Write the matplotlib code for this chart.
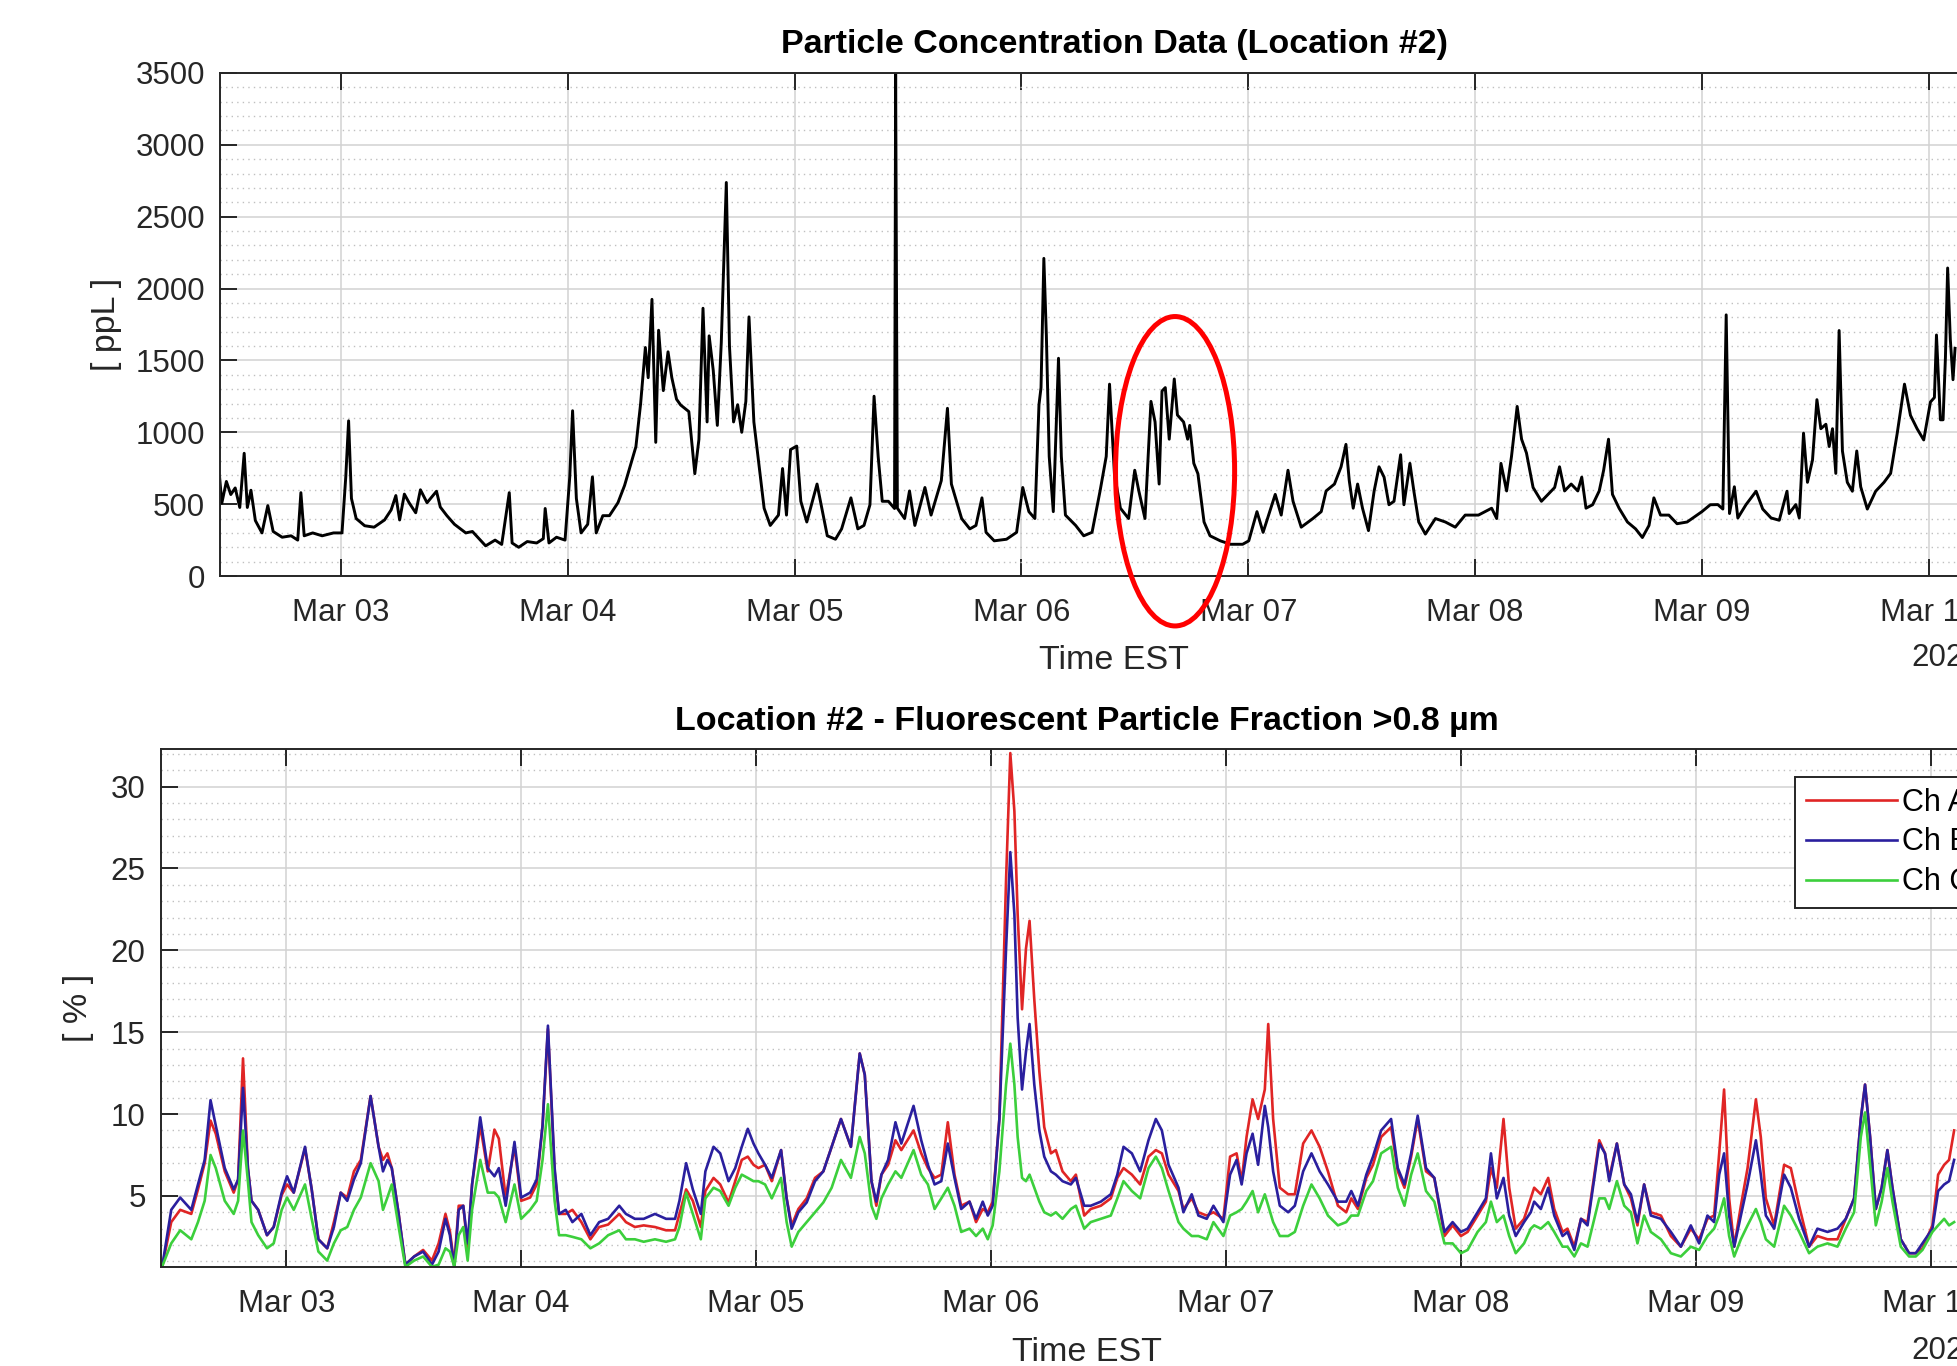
#!/usr/bin/env python3
"""
Particle concentration + fluorescent fraction time series (Location #2),
MATLAB-style two-panel figure, cropped on the right like the source image.
"""

import numpy as np
import matplotlib
matplotlib.use("Agg")
import matplotlib.pyplot as plt
import matplotlib.dates as mdates
from matplotlib.ticker import MultipleLocator
from matplotlib.patches import Ellipse
from matplotlib.lines import Line2D

plt.rcParams["font.family"] = ["Liberation Sans", "DejaVu Sans"]

# ── Data (hours after Mar 02 00:00) ─────────────────────────────────────
BASE_DAY = np.datetime64("2023-03-02T00:00")
YEAR_LABEL = "2023"

PPL_HOURS = [
    11.15, 11.39, 11.86, 12.33, 12.80, 13.28, 13.75, 14.08, 14.46, 14.93,
    15.64, 16.25, 16.82, 17.76, 18.71, 19.42, 19.75, 20.10, 21.0, 22.0,
    23.2, 24.1, 24.5, 24.8, 25.1, 25.6, 26.5, 27.5, 28.6, 29.3,
    29.8, 30.2, 30.7, 31.2, 31.9, 32.4, 33.1, 34.1, 34.5, 35.2,
    36.0, 37.2, 37.9, 38.6, 39.3, 40.3, 41.0, 41.8, 42.1, 42.8,
    43.7, 44.7, 45.4, 45.6, 46.0, 46.8, 47.7, 48.2, 48.5, 48.9,
    49.4, 50.1, 50.6, 51.0, 51.7, 52.4, 53.3, 54.0, 54.8, 55.2,
    55.7, 56.2, 56.5, 56.9, 57.3, 57.6, 58.1, 58.6, 59.0, 59.5,
    59.93, 60.8, 61.44, 61.87, 62.3, 62.74, 62.95, 63.38, 63.81, 64.24,
    64.76, 65.1, 65.54, 65.97, 66.4, 66.83, 67.17, 67.69, 68.12, 68.77,
    69.41, 70.28, 70.71, 71.14, 71.57, 72.22, 72.65, 73.29, 74.37, 74.8,
    75.45, 76.31, 76.96, 77.95, 78.68, 79.33, 79.97, 80.4, 80.83, 81.26,
    81.91, 82.56, 82.69, 82.86, 83.63, 84.15, 84.71, 85.79, 86.43, 87.51,
    88.16, 88.59, 89.67, 90.53, 91.18, 91.82, 92.25, 93.11, 94.41, 95.48,
    96.13, 96.78, 97.42, 97.85, 98.07, 98.37, 98.63, 98.93, 99.36, 99.92,
    100.22, 100.65, 101.73, 102.59, 103.46, 104.32, 104.96, 105.31, 105.83, 106.47,
    107.33, 107.98, 108.41, 109.06, 109.7, 110.13, 110.56, 110.87, 111.21, 111.64,
    112.16, 112.5, 113.15, 113.58, 113.8, 114.23, 114.66, 115.31, 115.95, 117.03,
    118.11, 119.4, 120.05, 120.91, 121.56, 122.85, 123.49, 124.2, 124.73, 125.6,
    126.83, 127.71, 128.23, 129.11, 129.81, 130.33, 130.68, 131.1, 131.56, 132.09,
    132.72, 133.31, 133.84, 134.36, 134.89, 135.42, 136.12, 136.47, 137.1, 137.52,
    138.04, 138.74, 139.8, 140.85, 141.9, 142.95, 144.35, 145.75, 146.28, 146.73,
    147.33, 147.85, 148.45, 148.91, 149.43, 150.13, 151.01, 151.71, 152.41, 152.94,
    153.46, 154.16, 154.86, 155.28, 155.74, 156.44, 157.14, 157.6, 158.12, 158.54,
    159.24, 160.12, 160.99, 161.7, 162.4, 162.92, 163.62, 164.5, 165.37, 166.43,
    167.48, 168.0, 168.88, 169.69, 170.21, 170.57, 170.92, 171.44, 171.8, 172.67,
    173.73, 174.43, 175.31, 176.19, 177.0, 177.24, 177.94, 178.3, 178.75, 179.17,
    179.7, 180.16, 180.58, 181.11, 181.46, 181.81, 182.16, 182.51, 182.86, 183.39,
    183.92, 184.38, 184.8, 185.5, 186.38, 187.26, 187.96, 188.66, 189.44, 190.07,
    190.77, 191.47, 192.18, 192.6, 192.81, 193.23, 193.51, 193.76, 194.0, 194.28,
    194.57, 194.78,
]
PPL_VALUES = [
    688, 507, 658, 567, 613, 477, 854, 477, 597, 386,
    300, 490, 310, 270, 280, 250, 580, 280, 300, 280,
    300, 300, 690, 1080, 540, 400, 350, 340, 390, 460,
    560, 390, 570, 510, 440, 600, 510, 590, 480, 420,
    360, 300, 310, 260, 210, 250, 220, 580, 230, 200,
    240, 230, 260, 470, 230, 270, 250, 690, 1150, 540,
    300, 360, 690, 300, 420, 420, 510, 630, 810, 900,
    1200, 1590, 1380, 1925, 930, 1710, 1290, 1560, 1380, 1230,
    1190, 1144, 712, 950, 1863, 1072, 1671, 1431, 1048, 1623,
    2738, 1600, 1072, 1192, 1000, 1215, 1803, 1072, 832, 472,
    352, 424, 748, 424, 880, 904, 520, 376, 640, 496,
    280, 256, 328, 544, 328, 352, 496, 1251, 832, 520,
    520, 470, 3500, 472, 400, 592, 352, 616, 424, 664,
    1167, 640, 400, 328, 352, 544, 304, 245, 256, 304,
    616, 448, 400, 1192, 1311, 2210, 1671, 832, 448, 1515,
    832, 424, 352, 280, 304, 592, 832, 1335, 712, 472,
    400, 736, 592, 400, 1215, 1072, 640, 1287, 1311, 952,
    1371, 1120, 1072, 952, 1048, 784, 712, 376, 280, 245,
    221, 221, 245, 448, 304, 568, 424, 736, 520, 340,
    400, 448, 592, 640, 760, 916, 664, 472, 640, 472,
    316, 592, 760, 688, 496, 520, 844, 496, 784, 592,
    376, 292, 400, 376, 340, 424, 424, 472, 400, 784,
    592, 832, 1180, 952, 856, 616, 520, 568, 616, 760,
    592, 640, 592, 688, 472, 496, 592, 736, 952, 568,
    472, 376, 328, 268, 352, 544, 424, 424, 364, 376,
    424, 448, 496, 497, 466, 1817, 435, 621, 404, 497,
    590, 466, 404, 388, 590, 435, 497, 404, 994, 652,
    807, 1227, 1025, 1056, 901, 1025, 714, 1708, 870, 652,
    590, 870, 621, 466, 590, 652, 714, 994, 1335, 1118,
    1025, 947, 1211, 1242, 1677, 1087, 1087, 1522, 2143, 1646,
    1366, 1584,
]

FRAC_HOURS = [
    11.34, 12.25, 13.16, 14.3, 14.98, 15.67, 16.26, 16.8, 17.72, 18.63,
    19.08, 19.58, 20.08, 20.45, 21.13, 22.04, 22.72, 23.54, 24.09, 24.77,
    25.91, 26.6, 27.28, 28.19, 28.87, 29.56, 30.24, 30.92, 31.61, 32.61,
    33.43, 33.88, 34.34, 34.79, 35.48, 36.16, 37.07, 37.98, 38.89, 39.57,
    40.26, 40.71, 41.17, 41.62, 42.08, 42.53, 42.99, 43.81, 44.58, 45.27,
    45.72, 46.41, 47.32, 48.0, 48.91, 49.59, 50.19, 50.73, 51.42, 51.87,
    52.55, 53.24, 54.15, 55.06, 55.97, 56.88, 58.02, 58.7, 59.61, 60.52,
    61.66, 62.8, 63.71, 64.17, 64.85, 65.54, 66.35, 66.81, 67.65, 68.33,
    69.18, 69.86, 70.54, 71.15, 71.73, 72.24, 72.92, 73.6, 74.55, 75.12,
    75.63, 76.31, 77.16, 78.01, 78.86, 79.71, 80.66, 81.68, 82.59, 83.1,
    83.78, 84.29, 84.8, 85.48, 86.23, 86.84, 88.09, 88.87, 89.55, 90.23,
    90.91, 91.59, 92.27, 92.95, 93.8, 94.47, 95.15, 95.66, 96.17, 96.85,
    97.53, 97.97, 98.38, 98.72, 99.16, 99.57, 99.94, 100.42, 100.93, 101.43,
    102.11, 102.62, 103.3, 104.15, 104.66, 105.51, 106.19, 107.21, 108.23, 108.9,
    109.54, 110.39, 111.24, 112.09, 112.84, 113.45, 114.13, 115.15, 115.65, 116.5,
    117.18, 118.03, 118.71, 119.73, 120.41, 121.09, 121.6, 122.1, 122.72, 123.29,
    123.97, 124.31, 124.82, 125.5, 126.35, 127.03, 127.88, 128.73, 129.57, 130.42,
    131.44, 132.29, 132.8, 133.48, 134.33, 135.01, 135.85, 136.87, 137.55, 138.23,
    138.91, 139.59, 140.44, 141.29, 142.31, 143.15, 144.0, 144.68, 145.7, 146.55,
    147.06, 147.67, 148.35, 148.93, 149.6, 150.45, 151.13, 151.49, 152.17, 152.92,
    153.53, 154.38, 154.89, 155.58, 156.26, 156.94, 158.13, 158.71, 159.15, 159.93,
    160.68, 161.36, 162.04, 162.72, 163.4, 164.43, 165.45, 166.47, 167.49, 168.34,
    169.19, 169.87, 170.38, 170.89, 171.4, 171.91, 172.6, 173.28, 174.13, 174.64,
    175.15, 176.0, 177.02, 177.7, 178.55, 179.57, 180.42, 181.45, 182.47, 183.32,
    184.17, 184.85, 185.29, 185.8, 186.38, 186.99, 187.57, 188.08, 188.93, 189.79,
    190.47, 191.15, 192.17, 192.75, 193.36, 193.87, 194.38,
]
CH_A = [
    0.7, 3.4, 4.15, 3.9, 5.4, 7.0, 9.6, 8.8, 6.5, 5.2,
    6.0, 13.4, 6.7, 4.7, 4.15, 2.6, 3.1, 5.05, 5.7, 5.2,
    7.9, 5.4, 2.35, 1.8, 3.4, 5.2, 4.9, 6.5, 7.2, 11.1,
    8.0, 7.2, 7.6, 6.7, 3.9, 0.8, 1.3, 1.7, 1.05, 2.1,
    3.9, 2.85, 0.8, 4.4, 4.4, 1.8, 5.7, 9.3, 6.5, 9.05,
    8.5, 4.9, 8.0, 4.7, 4.9, 5.7, 9.3, 15.2, 6.5, 3.9,
    3.9, 4.15, 3.4, 2.35, 3.1, 3.25, 3.9, 3.4, 3.1, 3.2,
    3.1, 2.9, 2.9, 3.9, 5.4, 4.7, 3.1, 5.3, 6.1, 5.7,
    4.6, 5.9, 7.2, 7.4, 6.9, 6.7, 6.9, 5.9, 7.8, 4.85,
    3.2, 4.2, 4.85, 6.1, 6.5, 8.0, 9.7, 8.0, 13.7, 12.4,
    5.9, 4.4, 6.3, 6.9, 8.4, 7.8, 9.0, 7.6, 6.7, 6.1,
    6.3, 9.5, 6.3, 4.4, 4.65, 3.4, 4.2, 4.0, 4.65, 9.7,
    24.3, 32.05, 28.5, 22.2, 16.4, 20.1, 21.8, 17.0, 12.6, 9.2,
    7.6, 7.8, 6.5, 5.9, 6.3, 3.8, 4.2, 4.4, 4.85, 6.1,
    6.7, 6.3, 5.7, 7.4, 7.8, 7.6, 6.3, 5.3, 4.2, 4.85,
    4.0, 3.8, 4.0, 3.6, 7.4, 7.6, 5.9, 8.6, 10.9, 9.7,
    11.5, 15.5, 9.7, 5.5, 5.1, 5.1, 8.2, 9.0, 8.0, 6.5,
    4.4, 4.0, 4.85, 4.2, 6.1, 6.9, 8.6, 9.2, 6.5, 5.5,
    7.4, 9.7, 6.5, 6.1, 2.55, 3.2, 2.55, 2.8, 3.8, 4.65,
    6.7, 5.5, 9.7, 5.5, 3.0, 3.6, 4.85, 5.5, 5.1, 6.1,
    4.2, 2.8, 3.0, 1.9, 3.6, 3.4, 8.4, 7.6, 6.1, 8.2,
    5.7, 4.85, 3.2, 5.7, 4.0, 3.8, 2.55, 1.9, 3.0, 2.35,
    3.6, 3.8, 7.6, 11.5, 4.85, 1.9, 4.4, 6.7, 10.9, 8.6,
    4.85, 3.2, 6.9, 6.7, 4.4, 1.9, 2.55, 2.35, 2.35, 3.6,
    4.85, 9.7, 11.8, 8.6, 4.2, 5.5, 7.8, 5.5, 2.35, 1.5,
    1.5, 1.8, 3.2, 6.3, 6.9, 7.2, 9.0,
]
CH_B = [
    0.7, 4.15, 4.9, 4.15, 5.7, 7.2, 10.85, 9.3, 6.7, 5.4,
    6.0, 11.6, 6.7, 4.7, 4.15, 2.6, 3.1, 5.2, 6.2, 5.2,
    8.0, 5.4, 2.35, 1.8, 3.1, 5.2, 4.7, 6.0, 7.0, 11.1,
    8.0, 6.5, 7.2, 6.7, 3.9, 0.8, 1.3, 1.6, 0.8, 1.6,
    3.6, 2.6, 0.67, 4.15, 4.4, 2.1, 5.7, 9.8, 6.7, 6.2,
    6.7, 4.4, 8.3, 4.9, 5.2, 6.0, 9.3, 15.4, 6.7, 3.9,
    4.15, 3.4, 3.9, 2.6, 3.4, 3.6, 4.4, 3.9, 3.6, 3.6,
    3.9, 3.6, 3.6, 4.7, 7.0, 5.4, 3.9, 6.5, 8.0, 7.6,
    5.9, 6.7, 8.0, 9.1, 8.2, 7.6, 6.9, 6.1, 7.8, 4.85,
    3.0, 4.0, 4.6, 5.9, 6.5, 8.0, 9.7, 8.0, 13.7, 12.4,
    5.9, 4.65, 6.3, 7.2, 9.5, 8.2, 10.5, 8.4, 6.9, 5.7,
    5.9, 8.2, 6.1, 4.2, 4.65, 3.6, 4.65, 3.8, 4.4, 9.7,
    20.1, 26.0, 22.2, 15.9, 11.5, 13.8, 15.5, 11.8, 9.0, 7.4,
    6.5, 6.3, 5.9, 5.7, 6.1, 4.4, 4.4, 4.65, 5.1, 6.3,
    8.0, 7.6, 6.5, 8.4, 9.7, 9.0, 6.9, 5.5, 4.0, 5.1,
    3.8, 3.6, 4.4, 3.4, 6.3, 7.2, 5.7, 7.6, 8.8, 6.9,
    10.5, 9.2, 6.5, 4.4, 4.0, 4.4, 6.5, 7.6, 6.5, 5.7,
    4.65, 4.65, 5.3, 4.4, 6.3, 7.4, 9.0, 9.7, 6.7, 5.7,
    7.6, 9.9, 6.7, 6.1, 2.8, 3.4, 2.8, 3.0, 4.0, 4.85,
    7.6, 4.85, 6.1, 3.8, 2.55, 3.4, 4.0, 4.65, 4.2, 5.5,
    3.8, 2.55, 2.8, 1.7, 3.6, 3.2, 8.2, 7.6, 5.9, 8.2,
    5.7, 5.1, 3.4, 5.7, 3.8, 3.6, 2.8, 1.9, 3.2, 2.1,
    3.8, 3.4, 6.3, 7.6, 3.8, 1.9, 3.8, 5.7, 8.4, 6.3,
    3.8, 3.0, 6.3, 5.5, 3.6, 1.9, 3.0, 2.8, 3.0, 3.6,
    4.85, 9.7, 11.8, 8.6, 4.2, 5.5, 7.8, 5.5, 2.35, 1.5,
    1.5, 2.1, 3.0, 5.3, 5.7, 5.9, 7.2,
]
CH_C = [
    0.7, 2.1, 2.9, 2.35, 3.4, 4.7, 7.5, 6.7, 4.7, 3.9,
    4.7, 9.0, 5.9, 3.4, 2.6, 1.8, 2.1, 4.15, 4.9, 4.15,
    5.7, 3.6, 1.6, 1.05, 2.1, 2.9, 3.1, 4.15, 4.9, 7.0,
    5.9, 4.15, 4.9, 5.7, 3.1, 0.67, 1.05, 1.3, 0.67, 0.8,
    1.8, 1.6, 0.67, 2.6, 3.1, 1.05, 4.15, 7.2, 5.2, 5.2,
    4.9, 3.4, 5.7, 3.6, 4.15, 4.7, 7.2, 10.6, 4.7, 2.6,
    2.6, 2.5, 2.35, 1.8, 2.1, 2.6, 2.9, 2.35, 2.35, 2.2,
    2.35, 2.2, 2.35, 3.1, 5.2, 3.9, 2.35, 4.85, 5.5, 5.3,
    4.4, 5.5, 6.3, 6.1, 5.9, 5.9, 5.7, 4.85, 6.1, 3.4,
    1.9, 2.8, 3.4, 4.0, 4.6, 5.5, 7.2, 6.1, 8.6, 7.6,
    4.4, 3.6, 4.85, 5.7, 6.5, 6.1, 7.8, 6.3, 5.7, 4.2,
    4.85, 5.5, 4.4, 2.8, 3.0, 2.55, 3.0, 2.35, 3.2, 6.5,
    11.8, 14.3, 11.8, 8.6, 6.1, 5.9, 6.3, 5.5, 4.65, 4.0,
    3.8, 4.0, 3.6, 4.2, 4.4, 3.0, 3.4, 3.6, 3.8, 4.85,
    5.9, 5.3, 4.85, 6.7, 7.4, 6.7, 5.3, 3.4, 3.0, 2.55,
    2.55, 2.35, 3.4, 2.55, 3.8, 4.0, 4.2, 4.65, 5.3, 4.0,
    5.1, 4.4, 3.4, 2.55, 2.55, 2.8, 4.4, 5.7, 4.85, 3.8,
    3.2, 3.4, 3.8, 3.8, 5.3, 5.9, 7.6, 8.0, 5.5, 4.4,
    6.3, 7.6, 5.3, 4.65, 2.1, 2.1, 1.5, 1.7, 2.8, 3.4,
    4.65, 3.4, 3.8, 2.55, 1.5, 2.1, 3.0, 3.2, 3.0, 3.4,
    2.8, 1.9, 1.9, 1.3, 2.1, 1.9, 4.85, 4.85, 4.2, 5.9,
    4.4, 4.0, 2.1, 3.8, 2.8, 2.35, 1.5, 1.3, 1.9, 1.7,
    2.55, 3.0, 3.8, 4.85, 2.55, 1.3, 2.35, 3.2, 4.2, 3.4,
    2.35, 1.9, 4.4, 3.8, 2.8, 1.5, 1.9, 2.1, 1.9, 3.0,
    4.0, 8.6, 10.1, 6.9, 3.2, 4.65, 6.7, 4.65, 1.9, 1.3,
    1.3, 1.7, 2.8, 3.2, 3.6, 3.2, 3.4,
]
CHANNEL_LABELS = ["Ch A", "Ch B", "Ch C"]

# ── Style ───────────────────────────────────────────────────────────────
COLOR_A = "#e02525"
COLOR_B = "#2a1f9e"
COLOR_C = "#3ccf3c"
AX_COLOR = "#262626"
GRID_MAJOR = "#d2d2d2"
GRID_MINOR = "#c0c0c0"
TICK_FS = 22.5
LABEL_FS = 24.5

X_START_H, X_END_H = 11.2, 200.4


def to_times(hours):
    minutes = np.round(np.asarray(hours) * 60).astype(int)
    return BASE_DAY + minutes.astype("timedelta64[m]")


def style_axes(ax, minor_step, xlabel_y):
    ax.set_xlim(to_times([X_START_H])[0], to_times([X_END_H])[0])
    ax.xaxis.set_major_locator(mdates.DayLocator())
    ax.xaxis.set_major_formatter(mdates.DateFormatter("%b %d"))
    ax.yaxis.set_minor_locator(MultipleLocator(minor_step))
    ax.set_axisbelow(True)
    ax.grid(True, which="major", color=GRID_MAJOR, linewidth=1.1, linestyle="-")
    ax.grid(True, which="minor", axis="y", color=GRID_MINOR, linewidth=1.0,
            linestyle=(0, (1, 3)))
    for sp in ax.spines.values():
        sp.set_color(AX_COLOR)
        sp.set_linewidth(1.4)
    ax.tick_params(which="major", direction="in", length=12, width=1.4,
                   colors=AX_COLOR, labelsize=TICK_FS, top=True, right=True)
    ax.tick_params(which="minor", length=0)
    ax.tick_params(axis="x", pad=16)
    ax.tick_params(axis="y", pad=11)
    ax.xaxis.set_label_coords(0.5, xlabel_y)


def draw_top(fig, ax):
    ax.plot(to_times(PPL_HOURS), PPL_VALUES, color="black", linewidth=2.1)
    ax.set_ylim(0, 3500)
    ax.yaxis.set_major_locator(MultipleLocator(500))
    style_axes(ax, 100, -0.137)
    ax.set_title("Particle Concentration Data (Location #2)", fontsize=LABEL_FS,
                 fontweight="bold", pad=14)
    ax.set_xlabel("Time EST", fontsize=LABEL_FS, color=AX_COLOR)
    ax.set_ylabel("[ ppL ]", fontsize=LABEL_FS, color=AX_COLOR)
    ax.yaxis.set_label_coords(-0.055, 0.5)

    # red highlight ellipse around the Mar 06 afternoon episode
    ell = Ellipse((0.5341, 0.2083), 0.0666, 0.615, transform=ax.transAxes,
                  fill=False, edgecolor="red", linewidth=3.6, clip_on=False,
                  zorder=10)
    ax.add_patch(ell)


def draw_bottom(fig, ax):
    t = to_times(FRAC_HOURS)
    for vals, col in zip((CH_A, CH_B, CH_C), (COLOR_A, COLOR_B, COLOR_C)):
        ax.plot(t, vals, color=col, linewidth=1.9)
    all_vals = np.concatenate([CH_A, CH_B, CH_C])
    ax.set_ylim(all_vals.min() - 0.01, all_vals.max() + 0.25)
    ax.yaxis.set_major_locator(MultipleLocator(5))
    style_axes(ax, 1, -0.135)
    ax.set_title("Location #2 - Fluorescent Particle Fraction >0.8 µm",
                 fontsize=LABEL_FS, fontweight="bold", pad=13.5)
    ax.set_xlabel("Time EST", fontsize=LABEL_FS, color=AX_COLOR)
    ax.set_ylabel("[ % ]", fontsize=LABEL_FS, color=AX_COLOR)
    ax.yaxis.set_label_coords(-0.036, 0.5)

    handles = [Line2D([0], [0], color=c, linewidth=1.9)
               for c in (COLOR_A, COLOR_B, COLOR_C)]
    leg = fig.legend(handles, CHANNEL_LABELS, loc="upper left",
                     bbox_to_anchor=(0.9168, 0.4312), bbox_transform=fig.transFigure,
                     fontsize=22, frameon=True, fancybox=False, framealpha=1,
                     edgecolor=AX_COLOR, handlelength=3.0, handletextpad=0.15,
                     borderpad=0.35, labelspacing=0.32, borderaxespad=0)
    leg.get_frame().set_linewidth(1.4)


def main():
    fig = plt.figure(figsize=(19.58, 13.66), dpi=100)
    ax_top = fig.add_axes([0.1124, 0.5783, 0.9132, 0.3683])
    ax_bot = fig.add_axes([0.0822, 0.0725, 0.9459, 0.3792])

    draw_top(fig, ax_top)
    draw_bottom(fig, ax_bot)

    # year label under the last date tick (cropped at the figure edge)
    fig.text(0.976, 1 - 658 / 1366, YEAR_LABEL, fontsize=TICK_FS, color=AX_COLOR,
             ha="left", va="center")
    fig.text(0.976, 1 - 1351 / 1366, YEAR_LABEL, fontsize=TICK_FS, color=AX_COLOR,
             ha="left", va="center")

    fig.savefig("out.png", dpi=100, facecolor="white")
    plt.close(fig)


if __name__ == "__main__":
    main()
